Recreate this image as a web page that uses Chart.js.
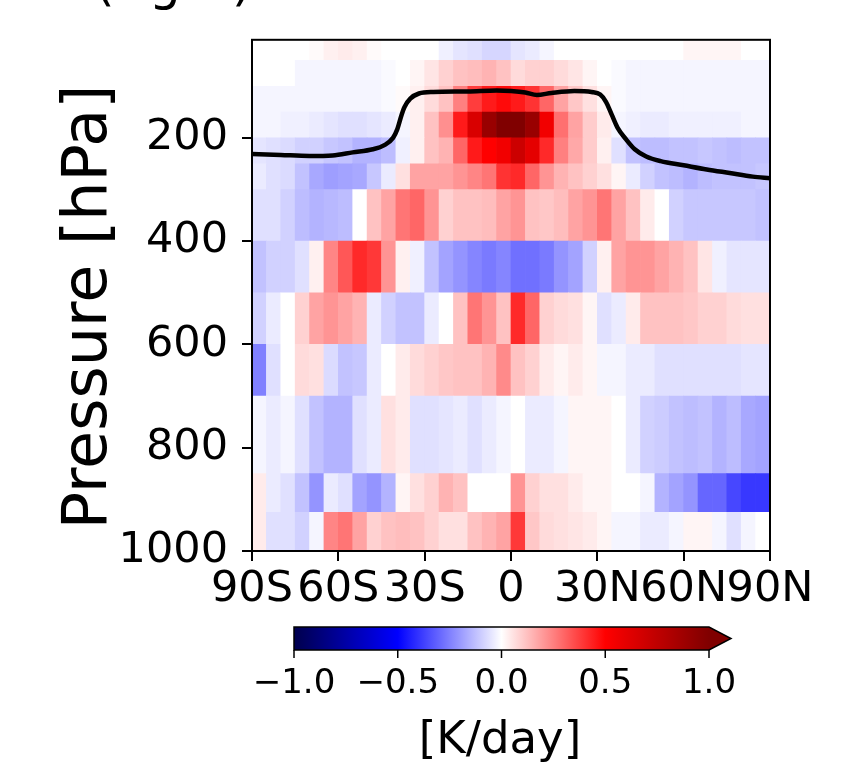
<!DOCTYPE html>
<html>
<head>
<meta charset="utf-8">
<script src="https://cdn.jsdelivr.net/npm/chart.js@4"></script>
<style>
html,body{margin:0;padding:0;background:#fff;}
#wrap{position:relative;width:855px;height:767px;overflow:hidden;}
#c{position:absolute;left:0;top:0;}
#ov{position:absolute;left:0;top:0;}
</style>
</head>
<body>
<div id="wrap">
<canvas id="c" width="855" height="767"></canvas>
<svg id="ov" width="855" height="767" xmlns="http://www.w3.org/2000/svg"></svg>
</div>
<script>
// ---------- DATA ----------
const latCenters = [-87.5,-82.5,-77.5,-72.5,-67.5,-62.5,-57.5,-52.5,-47.5,-42.5,-37.5,-32.5,-27.5,-22.5,-17.5,-12.5,-7.5,-2.5,
                    2.5,7.5,12.5,17.5,22.5,27.5,32.5,37.5,42.5,47.5,52.5,57.5,62.5,67.5,72.5,77.5,82.5,87.5];
// pressure layer edges [hPa], bottom to top
const pressureEdges = [1000, 925, 850, 700, 600, 500, 400, 300, 250, 200, 150, 100, 50, 10];
// heating rate [K/day] per layer, south to north
const heat_1000_925 = [0.04,-0.06,-0.06,-0.09,-0.02,0.24,0.27,0.18,0.09,0.12,0.13,0.12,0.09,0.06,0.06,0.12,0.15,0.18,
                       0.39,0.11,0.07,0.06,0.05,0.04,0.02,-0.02,-0.02,-0.04,-0.04,-0.02,0.02,0.02,-0.02,-0.06,-0.02,0.00];
const heat_925_850  = [0.04,-0.04,-0.06,-0.12,-0.21,-0.04,-0.06,-0.18,-0.21,-0.15,0.02,0.06,0.09,0.15,0.12,0.00,0.00,0.00,
                       0.21,0.09,0.06,0.06,0.04,0.02,0.02,0.00,0.00,-0.02,-0.15,-0.18,-0.21,-0.30,-0.30,-0.36,-0.39,-0.39];
const heat_850_700  = [-0.02,-0.04,-0.02,-0.06,-0.12,-0.15,-0.15,-0.06,-0.04,0.06,0.04,-0.06,-0.06,-0.05,-0.04,-0.06,-0.04,-0.02,
                       0.00,-0.04,-0.04,-0.02,0.02,0.02,0.02,0.00,-0.04,-0.09,-0.10,-0.12,-0.13,-0.12,-0.15,-0.13,-0.17,-0.18];
const heat_700_600  = [-0.25,-0.06,0.00,0.07,0.06,-0.07,-0.12,-0.11,-0.04,0.00,0.04,0.07,0.09,0.11,0.12,0.12,0.15,0.23,
                       0.12,0.09,0.04,0.02,0.04,0.02,-0.02,-0.02,-0.04,-0.04,-0.06,-0.06,-0.06,-0.06,-0.06,-0.06,-0.05,-0.05];
const heat_600_500  = [-0.09,-0.04,0.00,0.09,0.18,0.21,0.18,0.15,-0.04,-0.09,-0.12,-0.12,-0.04,0.00,0.12,0.27,0.21,0.12,
                       0.42,0.30,0.09,0.07,0.06,0.02,-0.06,-0.04,0.04,0.12,0.12,0.12,0.11,0.09,0.09,0.07,0.06,0.06];
const heat_500_400  = [-0.12,-0.09,-0.09,-0.06,0.03,0.24,0.33,0.42,0.39,0.21,0.03,-0.03,-0.12,-0.18,-0.21,-0.24,-0.26,-0.24,
                       -0.28,-0.28,-0.26,-0.21,-0.18,-0.09,0.03,0.18,0.21,0.21,0.18,0.15,0.12,0.05,-0.03,-0.05,-0.05,-0.05];
const heat_400_300  = [-0.06,-0.06,-0.09,-0.13,-0.15,-0.14,-0.13,0.00,0.12,0.18,0.27,0.30,0.21,0.09,0.12,0.12,0.13,0.18,
                       0.21,0.12,0.11,0.13,0.18,0.21,0.27,0.18,0.12,0.04,0.00,-0.09,-0.11,-0.11,-0.11,-0.11,-0.11,-0.12];
const heat_300_250  = [-0.04,-0.06,-0.07,-0.12,-0.17,-0.19,-0.18,-0.17,-0.11,-0.04,0.06,0.18,0.18,0.18,0.21,0.24,0.27,0.40,
                       0.42,0.30,0.21,0.15,0.12,0.09,0.06,0.02,-0.04,-0.09,-0.12,-0.13,-0.15,-0.13,-0.12,-0.12,-0.12,-0.11];
const heat_250_200  = [-0.05,-0.06,-0.07,-0.09,-0.09,-0.11,-0.12,-0.15,-0.15,-0.13,-0.03,0.03,0.12,0.15,0.30,0.45,0.50,0.55,
                       0.70,0.60,0.42,0.25,0.17,0.10,0.03,-0.06,-0.12,-0.13,-0.13,-0.12,-0.12,-0.11,-0.12,-0.13,-0.12,-0.12];
const heat_200_150  = [-0.02,-0.02,-0.03,-0.03,-0.04,-0.05,-0.06,-0.06,-0.05,-0.04,-0.02,0.03,0.12,0.22,0.45,0.65,0.90,1.00,
                       1.00,0.90,0.55,0.28,0.18,0.10,0.04,-0.02,-0.03,-0.04,-0.04,-0.03,-0.03,-0.03,-0.03,-0.03,-0.02,-0.02];
const heat_150_100  = [-0.02,-0.02,-0.02,-0.02,-0.02,-0.02,-0.02,-0.02,-0.02,-0.01,0.01,0.03,0.07,0.12,0.25,0.38,0.45,0.48,
                       0.45,0.40,0.30,0.18,0.11,0.06,0.02,-0.01,-0.02,-0.02,-0.02,-0.02,-0.02,-0.02,-0.02,-0.02,-0.02,-0.02];
const heat_100_50   = [0.00,0.00,0.00,-0.02,-0.02,-0.02,-0.02,-0.02,-0.02,-0.01,0.00,0.02,0.05,0.09,0.12,0.13,0.15,0.12,
                       0.07,0.09,0.09,0.07,0.05,0.02,0.00,-0.01,-0.02,-0.02,-0.02,-0.02,-0.02,-0.02,-0.02,-0.02,-0.02,-0.02];
const heat_50_10    = [0.00,0.00,0.00,0.00,0.01,0.03,0.04,0.03,0.01,0.00,0.00,0.00,0.00,-0.03,-0.05,-0.06,-0.08,-0.08,
                       -0.05,-0.04,-0.02,0.00,0.00,0.00,0.00,0.00,0.00,0.00,0.00,0.00,0.02,0.02,0.02,0.02,0.00,0.00];
const heatLayers = [heat_1000_925, heat_925_850, heat_850_700, heat_700_600, heat_600_500, heat_500_400,
                    heat_400_300, heat_300_250, heat_250_200, heat_200_150, heat_150_100, heat_100_50, heat_50_10];
// tropopause line
const tropLat = [-90,-80,-70,-62,-55,-48,-44,-41,-39.5,-38,-37,-35,-32,-27,-15,-5,0,5,9,14,22,28,31,33,35,37,40,43,47,52,60,68,76,84,90];
const tropP   = [231,233,235,234,228,222,214,200,183,155,140,124,114,111,110,108,109,112,117,113,109,111,116,130,155,180,203,222,236,245,253,261,268,275,278];
// ticks
const pressureTicks = [200, 400, 600, 800, 1000];
const latTicks = [-90, -60, -30, 0, 30, 60, 90];
const latTickLabels = ['90S','60S','30S','0','30N','60N','90N'];
const cbarTicks = [-1.0, -0.5, 0.0, 0.5, 1.0];
const cbarTickLabels = ['\u22121.0','\u22120.5','0.0','0.5','1.0'];

// ---------- colormap (matplotlib "seismic") ----------
const seismicStops = [[0,0,76.5],[0,0,255],[255,255,255],[255,0,0],[127.5,0,0]];
function seismic(v){
  const t = (Math.max(-1, Math.min(1, v)) + 1) / 2;
  const s = t * 4;
  const i = Math.min(3, Math.floor(s));
  const f = s - i;
  const a = seismicStops[i], b = seismicStops[i+1];
  const c = a.map((x,k)=>Math.round(x + (b[k]-x)*f));
  return `rgb(${c[0]},${c[1]},${c[2]})`;
}

// ---------- datasets ----------
const datasets = [];
heatLayers.forEach((vals, j) => {
  const pLow = pressureEdges[j], pHigh = pressureEdges[j+1];
  datasets.push({
    type: 'bar',
    data: latCenters.map(() => [pHigh, pLow]),
    backgroundColor: vals.map(seismic),
    borderWidth: 0,
    barPercentage: 1.0,
    categoryPercentage: 1.0,
    grouped: false,
    xAxisID: 'x',
    yAxisID: 'y',
    order: 2
  });
});
datasets.push({
  type: 'line',
  data: tropLat.map((x, i) => ({x: x, y: tropP[i]})),
  borderColor: '#000',
  borderWidth: 4.5,
  pointRadius: 0,
  fill: false,
  cubicInterpolationMode: 'monotone',
  xAxisID: 'xl',
  yAxisID: 'y',
  order: 0
});

const FONT = "'DejaVu Sans', sans-serif";

const framePlugin = {
  id: 'frame',
  afterDraw(chart){
    const {ctx, chartArea: a} = chart;
    ctx.save();
    ctx.strokeStyle = '#000';
    ctx.lineWidth = 2;
    ctx.strokeRect(a.left, a.top, a.right - a.left, a.bottom - a.top);
    ctx.restore();
  }
};

new Chart(document.getElementById('c'), {
  type: 'bar',
  data: { labels: latCenters.map(String), datasets },
  options: {
    responsive: false,
    animation: false,
    devicePixelRatio: 1,
    events: [],
    layout: { padding: { left: 0, top: 34, right: 85, bottom: 767 - 551 - 70 } },
    plugins: { legend: { display: false }, tooltip: { enabled: false }, title: { display: false } },
    scales: {
      x: { type: 'category', display: false, offset: true, grid: { display: false } },
      xl: {
        type: 'linear', position: 'bottom', min: -90, max: 90, offset: false,
        afterBuildTicks: s => { s.ticks = latTicks.map(v => ({value: v})); },
        afterFit: s => { s.height = 70; },
        ticks: {
          autoSkip: false, maxRotation: 0, minRotation: 0, padding: 3,
          color: '#000', font: { family: FONT, size: 43 },
          callback: (v) => latTickLabels[latTicks.indexOf(v)]
        },
        grid: { offset: false, drawOnChartArea: false, drawTicks: true, tickLength: 10, color: '#000', lineWidth: 2 },
        border: { display: true, color: '#000', width: 2 }
      },
      y: {
        type: 'linear', position: 'left', reverse: true, min: 10, max: 1000,
        afterBuildTicks: s => { s.ticks = pressureTicks.map(v => ({value: v})); },
        afterFit: s => { s.width = 252; },
        ticks: { padding: 14, color: '#000', font: { family: FONT, size: 43 }, callback: v => String(v) },
        grid: { drawOnChartArea: false, drawTicks: true, tickLength: 10, color: '#000', lineWidth: 2 },
        border: { display: true, color: '#000', width: 2 },
        title: { display: false }
      }
    }
  },
  plugins: [framePlugin]
});

// ---------- colorbar & extra text (SVG overlay) ----------
const svg = document.getElementById('ov');
const NS = 'http://www.w3.org/2000/svg';
function el(name, attrs, text){
  const e = document.createElementNS(NS, name);
  for (const k in attrs) e.setAttribute(k, attrs[k]);
  if (text !== undefined) e.textContent = text;
  svg.appendChild(e);
  return e;
}
const cb = { x0: 294, x1: 709, y0: 627, y1: 650, tip: 731 };
const defs = el('defs', {});
const grad = document.createElementNS(NS, 'linearGradient');
grad.setAttribute('id', 'seis'); grad.setAttribute('x1', '0'); grad.setAttribute('x2', '1');
grad.setAttribute('y1', '0'); grad.setAttribute('y2', '0');
for (let k = 0; k <= 40; k++) {
  const st = document.createElementNS(NS, 'stop');
  st.setAttribute('offset', (k/40).toString());
  st.setAttribute('stop-color', seismic(-1 + 2*k/40));
  grad.appendChild(st);
}
defs.appendChild(grad);
el('rect', { x: cb.x0, y: cb.y0, width: cb.x1 - cb.x0, height: cb.y1 - cb.y0, fill: 'url(#seis)' });
el('polygon', { points: `${cb.x1},${cb.y0} ${cb.tip},${(cb.y0+cb.y1)/2} ${cb.x1},${cb.y1}`, fill: seismic(1) });
el('path', { d: `M${cb.x0},${cb.y0} H${cb.x1} L${cb.tip},${(cb.y0+cb.y1)/2} L${cb.x1},${cb.y1} H${cb.x0} Z`,
             fill: 'none', stroke: '#000', 'stroke-width': 1.5 });
cbarTicks.forEach((v, i) => {
  const x = cb.x0 + (v + 1) / 2 * (cb.x1 - cb.x0);
  el('line', { x1: x, x2: x, y1: cb.y1, y2: cb.y1 + 8, stroke: '#000', 'stroke-width': 1.5 });
  el('text', { x: x, y: 693, 'text-anchor': 'middle', 'font-family': FONT, 'font-size': 34, fill: '#000' }, cbarTickLabels[i]);
});
el('text', { x: 500, y: 753, 'text-anchor': 'middle', 'font-family': FONT, 'font-size': 45, fill: '#000' }, '[K/day]');
el('text', { x: 95, y: 0, 'font-family': FONT, 'font-size': 50, fill: '#000' }, '(right)');
// y-axis title
el('text', { x: 0, y: 0, transform: 'translate(84,307) rotate(-90)', 'text-anchor': 'middle',
             'dominant-baseline': 'central', 'font-family': FONT, 'font-size': 62, fill: '#000' }, 'Pressure [hPa]');
</script>
</body>
</html>
